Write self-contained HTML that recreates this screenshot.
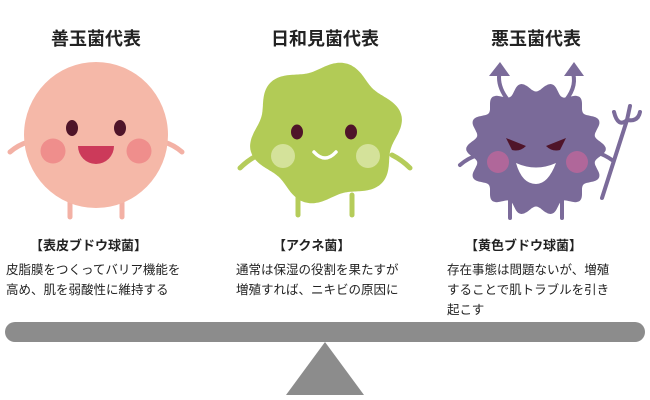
<!DOCTYPE html>
<html><head><meta charset="utf-8"><style>
body{margin:0;width:650px;height:400px;background:#fff;overflow:hidden;font-family:"Liberation Sans","Noto Sans CJK JP",sans-serif;color:#222}
.t{position:absolute;font-weight:bold;font-size:18px;text-align:center;width:200px;top:25px}
.l{position:absolute;font-weight:bold;font-size:13px;top:235px}
.d{position:absolute;font-size:12.5px;line-height:20px;top:260px}
svg{position:absolute;left:0;top:0}
</style></head><body>
<svg width="650" height="400">
<g stroke="#f3b1a5" stroke-width="5" stroke-linecap="round" fill="none">
<path d="M10 152 Q18 145 28 142"/><path d="M164 142 Q174 145 182 152"/>
<path d="M70 200 L70 217"/><path d="M122 200 L122 217"/></g>
<ellipse cx="96" cy="135" rx="72" ry="73" fill="#f5b8a8"/>
<ellipse cx="72" cy="128" rx="6" ry="8" fill="#4f1429"/><ellipse cx="120" cy="128" rx="6" ry="8" fill="#4f1429"/>
<circle cx="53" cy="151" r="12.5" fill="#ef8e8c"/><circle cx="139" cy="151" r="12.5" fill="#ef8e8c"/>
<path d="M78 146 L114 146 A18 18 0 0 1 78 146Z" fill="#cc3a5a"/>
<g stroke="#b5cc5a" stroke-width="5" stroke-linecap="round" fill="none">
<path d="M240 168 Q248 160 258 155"/><path d="M392 155 Q402 160 410 168"/>
<path d="M298 195 L298 215"/><path d="M352 195 L352 215"/></g>
<path id="g" fill="#b2cb56"/>
<ellipse cx="297" cy="132" rx="6" ry="7.5" fill="#4f1429"/><ellipse cx="351" cy="132" rx="6" ry="7.5" fill="#4f1429"/>
<circle cx="283" cy="156" r="12" fill="#d4e29a"/><circle cx="368" cy="156" r="12" fill="#d4e29a"/>
<path d="M314 152 Q325 164 336 152" stroke="#fff" stroke-width="3.5" fill="none" stroke-linecap="round"/>
<g stroke="#7b6b9a" stroke-width="4" stroke-linecap="round" fill="none">
<path d="M508 100 Q496 85 500 70"/><path d="M566 100 Q578 85 572 70"/>
<path d="M460 165 Q468 158 478 155"/><path d="M596 152 Q605 155 612 160"/>
<path d="M510 200 L510 218"/><path d="M562 200 L562 218"/>
<path d="M602 198 L627 120"/><path d="M614 112 Q618 128 627 120 Q638 122 640 112"/><path d="M627 120 L630 106"/></g>
<polygon points="489,76 500,62 510,76" fill="#7b6b9a"/><polygon points="564,76 574,62 584,76" fill="#7b6b9a"/>
<path id="p" fill="#7a6a99"/>
<path d="M506 138 L526 146 Q520 152 512 150Z" fill="#4f1429"/><path d="M566 138 L546 146 Q552 152 560 150Z" fill="#4f1429"/>
<circle cx="498" cy="162" r="11" fill="#b0679a"/><circle cx="577" cy="162" r="11" fill="#b0679a"/>
<path d="M516 163 Q536 172 556 163 Q548 184 536 184 Q522 184 516 163Z" fill="#fff"/>
<rect x="5" y="322" width="640" height="20" rx="10" fill="#8c8c8c"/>
<polygon points="325,342 286,395 364,395" fill="#8c8c8c"/>
</svg>
<div class="t" style="left:-4px">善玉菌代表</div>
<div class="t" style="left:225px">日和見菌代表</div>
<div class="t" style="left:436px">悪玉菌代表</div>
<div class="l" style="left:30px">【表皮ブドウ球菌】</div>
<div class="l" style="left:273px">【アクネ菌】</div>
<div class="l" style="left:465px">【黄色ブドウ球菌】</div>
<div class="d" style="left:6px">皮脂膜をつくってバリア機能を<br>高め、肌を弱酸性に維持する</div>
<div class="d" style="left:236px">通常は保湿の役割を果たすが<br>増殖すれば、ニキビの原因に</div>
<div class="d" style="left:447px">存在事態は問題ないが、増殖<br>することで肌トラブルを引き<br>起こす</div>
<script>
function blob(id,cx,cy,r,a,n,ph,sx){var d="";for(var i=0;i<=360;i++){var t=i*Math.PI/180;var rr=r+a*Math.cos(n*t+ph);var x=cx+rr*Math.cos(t)*sx,y=cy+rr*Math.sin(t);d+=(i?"L":"M")+x.toFixed(1)+" "+y.toFixed(1);}document.getElementById(id).setAttribute("d",d+"Z");}
blob("g",326,133,67,5,6,Math.PI/2,1.08);
blob("p",536,149,62,4.5,14,0,1.05);
</script>
</body></html>
